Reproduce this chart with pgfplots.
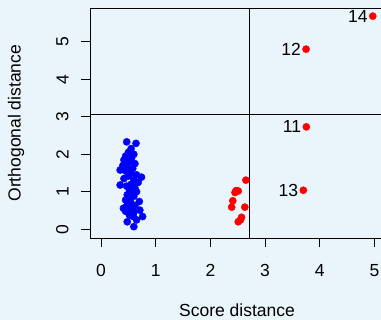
\documentclass[border=0pt]{standalone}
\usepackage{fontspec}
\setmainfont{Liberation Sans}
\usepackage{pgfplots}
\pgfplotsset{compat=1.18}
\definecolor{bgblue}{RGB}{234,244,251}

% score distance / orthogonal distance of the regular observations
\pgfplotstableread{
sd   od
0.47 2.33
0.64 2.29
0.55 2.15
0.50 2.05
0.60 2.00
0.45 1.95
0.56 1.90
0.42 1.85
0.52 1.80
0.62 1.75
0.40 1.70
0.48 1.66
0.58 1.62
0.35 1.58
0.45 1.55
0.55 1.50
0.65 1.45
0.74 1.39
0.50 1.42
0.42 1.35
0.60 1.32
0.68 1.25
0.35 1.18
0.55 1.20
0.47 1.15
0.62 1.10
0.52 1.05
0.65 1.00
0.58 0.95
0.48 0.92
0.60 0.88
0.52 0.82
0.45 0.78
0.70 0.74
0.55 0.70
0.48 0.65
0.62 0.62
0.41 0.56
0.55 0.55
0.71 0.51
0.45 0.48
0.60 0.45
0.76 0.34
0.59 0.34
0.52 0.38
0.65 0.25
0.48 0.20
0.60 0.07
}\regular

% contaminated observations (cluster)
\pgfplotstableread{
sd   od
2.65 1.31
2.47 1.03
2.51 1.02
2.45 0.98
2.41 0.76
2.39 0.59
2.63 0.59
2.57 0.32
2.55 0.25
2.51 0.20
}\cluster

% flagged outliers with their index
\pgfplotstableread{
sd   od   id
4.97 5.68 14
3.75 4.80 12
3.755 2.73 11
3.70 1.04 13
}\flagged

\begin{document}
\fontsize{17.5bp}{21bp}\selectfont
\begin{tikzpicture}[x=1bp,y=1bp]
\fill[bgblue] (-90.3,-82) rectangle (290.7,238);
\begin{axis}[
  at={(0,0)}, anchor=south west,
  scale only axis,
  width=293.4bp, height=229.7bp,
  xmin=-0.196, xmax=5.17,
  ymin=-0.232, ymax=5.889,
  axis background/.style={fill=bgblue},
  axis line style={black, line width=0.8bp},
  tick style={black, line width=0.8bp},
  tick align=outside,
  major tick length=9bp,
  tick pos=left,
  xtick={0,1,2,3,4,5},
  ytick={0,1,2,3,4,5},
  /pgf/number format/assume math mode=true,
  ticklabel style={font=\fontsize{17.5bp}{21bp}\selectfont},
  xticklabel style={anchor=north, inner sep=0pt, yshift=-17.5bp},
  yticklabel style={xshift=-12.5bp, rotate=90, anchor=south, inner sep=0pt},
  xlabel={Score distance},
  ylabel={Orthogonal distance},
  label style={font=\fontsize{17.5bp}{21bp}\selectfont},
  xlabel style={at={(axis description cs:0.5,-0.3140)}, anchor=center, inner sep=0pt},
  ylabel style={at={(axis description cs:-0.2532,0.5)}, anchor=center, inner sep=0pt},
  clip=true,
]
\addplot[black, line width=0.9bp] coordinates {(2.72,-0.3) (2.72,6)};
\addplot[black, line width=0.9bp] coordinates {(-0.3,3.07) (5.3,3.07)};
\addplot[only marks, mark=*, mark size=3.6bp, mark options={draw=blue, fill=blue}]
  table[x=sd, y=od] {\regular};
\addplot[only marks, mark=*, mark size=3.6bp, mark options={draw=red, fill=red}]
  table[x=sd, y=od] {\cluster};
\addplot[only marks, mark=*, mark size=3.6bp, mark options={draw=red, fill=red},
  point meta=explicit symbolic,
  nodes near coords,
  nodes near coords style={anchor=east, inner sep=0pt, xshift=-5bp, text=black,
    font=\fontsize{17.5bp}{21bp}\selectfont}]
  table[x=sd, y=od, meta=id] {\flagged};
\end{axis}
\pgfresetboundingbox
\path[use as bounding box] (-90.3,-82) rectangle (290.7,238);
\end{tikzpicture}
\end{document}
